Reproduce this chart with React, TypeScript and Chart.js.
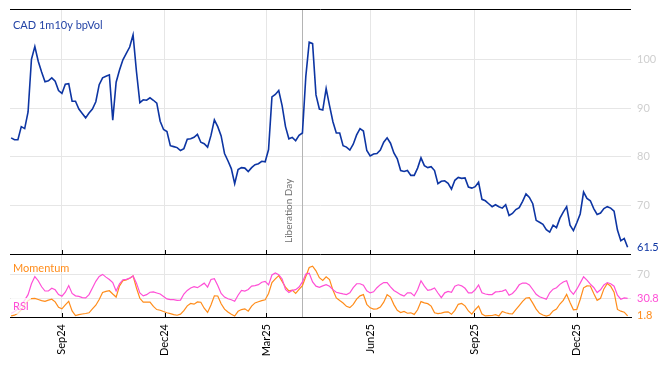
import { useEffect, useRef } from 'react';
import { Chart, registerables } from 'chart.js';

Chart.register(...registerables);

const W = 668;
const H = 366;

// ---- data -----------------------------------------------------------
const seriesTitle = 'CAD 1m10y bpVol';
const momentumLabel = 'Momentum';
const rsiLabel = 'RSI';

const firstSample = [2024, 6, 18]; // first observation date
const sampleStepDays = 3;
const axisStart = [2024, 6, 17];
const axisEnd = [2026, 0, 18];

const tickLabels = ['Sep24', 'Dec24', 'Mar25', 'Jun25', 'Sep25', 'Dec25'];
const tickDates = [
  [2024, 8, 1], [2024, 11, 1], [2025, 2, 1], [2025, 5, 1], [2025, 8, 1], [2025, 11, 1],
];

const eventLabel = 'Liberation Day';
const eventDate = [2025, 3, 2];

const volValues = [
  83.9, 83.5, 83.5, 86.2, 85.8, 89.2, 100, 102.6, 99.6, 97.4,
  95.4, 95.6, 96.2, 95.5, 93.6, 93.0, 94.9, 95.0, 91.4, 91.4,
  89.8, 88.9, 88.0, 89.0, 89.8, 91.3, 94.8, 96.2, 96.5, 96.8,
  87.5, 95.3, 97.8, 99.9, 101.2, 102.5, 105.0, 97.5, 91.1, 91.7,
  91.6, 92.1, 91.6, 91.0, 87.3, 85.6, 85.2, 82.3, 82.1, 81.9,
  81.3, 81.7, 83.6, 83.7, 84.0, 84.6, 83.0, 82.7, 82.0, 84.4,
  87.6, 86.2, 84.3, 80.7, 79.2, 77.6, 74.5, 77.4, 77.8, 77.7,
  77.0, 77.8, 78.4, 78.6, 79.1, 79.0, 81.5, 92.3, 92.8, 93.6,
  90.5, 86.2, 83.7, 84.0, 83.3, 84.4, 84.9, 96.5, 103.5, 103.2,
  92.7, 89.8, 89.6, 94.0, 90.5, 87.2, 84.9, 84.9, 82.3, 82.0,
  81.4, 82.6, 84.5, 85.8, 85.3, 81.3, 80.2, 80.6, 80.7, 81.4,
  83.0, 83.9, 82.8, 80.8, 79.6, 77.2, 77.0, 77.2, 76.2, 76.2,
  77.7, 79.8, 78.2, 77.8, 78.0, 77.2, 74.5, 75.0, 75.1, 74.6,
  73.4, 75.2, 75.8, 75.6, 75.7, 73.8, 73.6, 73.9, 74.8, 71.3,
  71.0, 70.4, 69.8, 70.2, 69.8, 69.5, 70.2, 68.0, 68.4, 69.2,
  69.6, 70.9, 72.4, 71.7, 70.4, 67.0, 66.6, 66.2, 65.1, 64.6,
  66.0, 65.5, 67.4, 68.7, 69.8, 66.0, 64.9, 66.5, 68.3, 72.8,
  71.5, 71.0, 69.4, 68.2, 68.5, 69.4, 69.8, 69.5, 68.9, 65.0,
  62.8, 63.3, 61.5,
];

const rsiValues = [
  6, 9, 13, 20, 28, 37, 55, 67, 60, 50,
  43, 43, 47.5, 45, 37, 34.5, 41, 52, 39, 35,
  34, 32, 31.6, 37, 48, 59, 67, 70.5, 66, 62,
  57, 43, 55, 61.7, 62.2, 64.3, 68, 56, 40, 35,
  37, 41, 41.5, 39.8, 38, 34, 30, 28.8, 28.8, 27.5,
  28, 38, 44, 48, 50.3, 48.5, 52, 56, 49.5, 62,
  63.5, 52, 39, 33, 30.2, 28.6, 26, 36, 44, 42.8,
  45.5, 51, 52, 53.5, 57.5, 58.9, 53, 69.5, 73, 70,
  63, 45.5, 40.5, 44, 45.3, 49.5, 58, 71, 72.5, 58,
  51, 49, 51.5, 53.4, 50.8, 45.3, 41, 39.5, 38.2, 37.1,
  40, 48.5, 55, 55, 52.5, 43.5, 39.9, 41.7, 48.5, 53.5,
  57, 57, 50, 44, 40.5, 37, 34.5, 39.9, 39.9, 35,
  45, 60, 51, 44.2, 45.3, 48, 39.7, 32, 40, 42.3,
  41, 51, 53.3, 51.5, 47.5, 40, 39.8, 45, 53, 40,
  38, 37, 37.1, 41.5, 42, 42.8, 45, 36, 39, 45,
  53.3, 56.2, 56.3, 53, 45.5, 37.5, 33.5, 31.5, 29.5, 40,
  46, 48.5, 54, 58, 60, 44, 37.5, 46, 56, 66.5,
  61, 54.3, 48.8, 40.5, 45, 53, 57, 55, 51, 36,
  29.4, 31.5, 30.8,
];

const momValues = [
  2, 3, 6, 12, 20, 27, 30.5, 30.8, 29, 27,
  26, 28, 29.5, 25, 16, 13.5, 20, 26, 10, 2.5,
  3.8, 5, 5.8, 7, 13.5, 19.5, 29, 40.5, 42.5, 43.5,
  38, 33, 51.5, 60, 61.2, 64, 68, 48, 31, 24.5,
  24.5, 24.5, 17.5, 12.3, 11.2, 9, 7, 5.6, 4, 2.9,
  4.7, 10.5, 18.5, 22.5, 21.2, 25, 24.5, 14.5, 7.5, 20,
  35, 34.8, 22, 13, 8.2, 4.4, 1.5, 9.4, 12.3, 13.5,
  9.7, 17.9, 23.3, 25.2, 27, 28.5, 39, 57, 63, 68.5,
  59, 49.5, 43.2, 44.6, 39, 45.8, 52, 67, 82, 84,
  76.5, 65, 60.5, 66.5, 61.8, 44.5, 31.6, 27.2, 23.2, 17.7,
  15.5, 21, 29.5, 35, 37, 21, 15.2, 13, 13.5, 16.5,
  24.5, 37, 33, 20.5, 11, 7.3, 9.2, 6.2, 6.9, 4.3,
  12, 25.5, 23.3, 22.1, 18, 7, 5.5, 6.5, 8, 8.5,
  4.5, 11, 21, 22.5, 18.5, 10, 4.7, 12, 18, 5,
  1.8, 2.3, 2.5, 3.8, 1.7, 9.2, 7, 5.5, 5, 12,
  19, 26, 31.5, 32, 23, 13, 6, 3.2, 1.4, 3.4,
  10, 13.2, 21.5, 27.5, 37.5, 24, 11.8, 12.5, 29, 48.3,
  51.5, 51.3, 39, 27.5, 31, 46.5, 55.5, 51, 41, 12.5,
  9.6, 8, 1.8,
];

const rsiLevels = [30, 70];

// ---- styles ---------------------------------------------------------
const BLUE = '#0d35a3';
const TITLE_BLUE = '#2444a6';
const PINK = '#ff4fd6';
const ORANGE = '#ff8c1a';
const GRID = '#e6e6e6';
const AXIS_GRAY = '#cfcfcf';
const FONT = 'Lato, "Open Sans", sans-serif';

const DAY = 86400000;
const utc = (d: number[]) => Date.UTC(d[0], d[1], d[2]);
const dayIndex = (d: number[]) => Math.round((utc(d) - utc(axisStart)) / DAY);

const firstDay = dayIndex(firstSample);
const sampleDays = volValues.map((_, i) => firstDay + i * sampleStepDays);
const tickDays = tickDates.map(dayIndex);
const eventDay = dayIndex(eventDate);
const endDay = dayIndex(axisEnd);

const lastVol = volValues[volValues.length - 1];
const lastRsi = rsiValues[rsiValues.length - 1];
const lastMom = momValues[momValues.length - 1];

const pts = (vals: number[]) => vals.map((v, i) => ({ x: sampleDays[i], y: v }));

// ---- decoration plugin ---------------------------------------------
const decoPlugin = {
  id: 'deco',
  beforeDatasetsDraw(chart: any, _args: any, opts: any) {
    const { ctx, chartArea } = chart;
    const xs = chart.scales.x;
    const px = Math.round(xs.getPixelForValue(eventDay)) + 0.5;
    ctx.save();
    ctx.strokeStyle = '#b4b4b4';
    ctx.lineWidth = 1;
    ctx.beginPath();
    ctx.moveTo(px, chartArea.top);
    ctx.lineTo(px, chartArea.bottom);
    ctx.stroke();
    if (opts.eventText) {
      ctx.translate(px - 11, chartArea.bottom - 11);
      ctx.rotate(-Math.PI / 2);
      ctx.fillStyle = '#707070';
      ctx.font = `10px ${FONT}`;
      ctx.textAlign = 'left';
      ctx.textBaseline = 'alphabetic';
      ctx.fillText(eventLabel, 0, 0);
    }
    ctx.restore();
  },
  afterDatasetsDraw(chart: any, _args: any, opts: any) {
    const { ctx, chartArea } = chart;
    const xs = chart.scales.x;
    ctx.save();
    ctx.strokeStyle = '#000';
    ctx.lineWidth = 1;
    ctx.beginPath();
    if (opts.topBorder) {
      ctx.moveTo(chartArea.left, Math.round(chartArea.top) + 0.5);
      ctx.lineTo(chartArea.right, Math.round(chartArea.top) + 0.5);
    }
    if (opts.bottomBorder) {
      ctx.moveTo(chartArea.left, Math.round(chartArea.bottom) + 0.5);
      ctx.lineTo(chartArea.right, Math.round(chartArea.bottom) + 0.5);
    }
    xs.ticks.forEach((t: any) => {
      const x = Math.round(xs.getPixelForValue(t.value)) + 0.5;
      ctx.moveTo(x, chartArea.bottom - 4);
      ctx.lineTo(x, chartArea.bottom);
    });
    ctx.stroke();
    (opts.labels || []).forEach((l: any) => {
      ctx.font = `${l.size}px ${FONT}`;
      ctx.textBaseline = 'middle';
      ctx.textAlign = 'left';
      const w = ctx.measureText(l.text).width;
      if (l.bg) {
        ctx.fillStyle = 'rgba(255,255,255,0.75)';
        ctx.fillRect(chartArea.left + l.dx - 2, chartArea.top + l.dy - 8, w + 4, 16);
      }
      ctx.fillStyle = l.color;
      ctx.fillText(l.text, chartArea.left + l.dx, chartArea.top + l.dy);
    });
    ctx.restore();
  },
};

const xBase = (height: number, showLabels: boolean) => ({
  type: 'linear',
  min: 0,
  max: endDay,
  afterBuildTicks: (s: any) => {
    s.ticks = tickDays.map((v) => ({ value: v }));
  },
  afterFit: (s: any) => {
    s.height = height;
    s.paddingLeft = 0;
    s.paddingRight = 0;
  },
  grid: { drawTicks: false, color: GRID },
  border: showLabels ? { display: true, color: '#000', width: 1 } : { display: false },
  ticks: {
    display: showLabels,
    autoSkip: false,
    minRotation: 90,
    maxRotation: 90,
    padding: 7,
    color: '#000',
    font: { size: 11, family: FONT },
    callback: (_v: any, i: number) => tickLabels[i],
  },
});

const yFit = (s: any) => {
  s.width = W - 631;
  s.paddingTop = 0;
  s.paddingBottom = 0;
};

export default function App() {
  const topRef = useRef<HTMLCanvasElement>(null);
  const botRef = useRef<HTMLCanvasElement>(null);

  useEffect(() => {
    Chart.defaults.font.family = FONT;
    const common = {
      animation: false,
      responsive: false,
      maintainAspectRatio: false,
      events: [],
    };

    const top = new Chart(topRef.current as HTMLCanvasElement, {
      type: 'line',
      data: {
        datasets: [
          {
            data: pts(volValues),
            borderColor: BLUE,
            borderWidth: 1.6,
            pointRadius: 0,
            tension: 0,
          },
        ],
      },
      options: {
        ...common,
        layout: { padding: { top: 9, left: 10, right: 0, bottom: H - 254 } },
        plugins: {
          legend: { display: false },
          tooltip: { enabled: false },
          deco: {
            topBorder: true,
            bottomBorder: true,
            eventText: true,
            labels: [{ text: seriesTitle, dx: 3, dy: 16, size: 11, color: TITLE_BLUE }],
          },
        },
        scales: {
          x: xBase(0, false),
          y: {
            position: 'right',
            min: 60.1,
            max: 110.3,
            afterBuildTicks: (s: any) => {
              s.ticks = [lastVol, 70, 80, 90, 100].map((v) => ({ value: v }));
            },
            afterFit: yFit,
            border: { display: false },
            grid: {
              drawTicks: false,
              color: (c: any) => (c.tick && c.tick.value === lastVol ? 'rgba(0,0,0,0)' : GRID),
            },
            ticks: {
              autoSkip: false,
              padding: 6,
              font: { size: 11, family: FONT },
              color: (c: any) => (c.tick && c.tick.value === lastVol ? BLUE : AXIS_GRAY),
              callback: (v: any) => String(v),
            },
          },
        },
      } as any,
      plugins: [decoPlugin],
    });

    const bot = new Chart(botRef.current as HTMLCanvasElement, {
      type: 'line',
      data: {
        datasets: [
          {
            data: pts(rsiValues),
            borderColor: PINK,
            borderWidth: 1.2,
            pointRadius: 0,
            tension: 0,
          },
          {
            data: pts(momValues),
            borderColor: ORANGE,
            borderWidth: 1.2,
            pointRadius: 0,
            tension: 0,
          },
        ],
      },
      options: {
        ...common,
        layout: { padding: { top: 255, left: 10, right: 0, bottom: 0 } },
        plugins: {
          legend: { display: false },
          tooltip: { enabled: false },
          deco: {
            topBorder: false,
            bottomBorder: false,
            eventText: false,
            labels: [
              { text: momentumLabel, dx: 3, dy: 13, size: 11, color: ORANGE },
              { text: rsiLabel, dx: 3, dy: 51, size: 11, color: PINK, bg: true },
            ],
          },
        },
        scales: {
          x: xBase(H - 317, true),
          y: {
            position: 'right',
            min: 0,
            max: 102.6,
            afterBuildTicks: (s: any) => {
              s.ticks = [lastMom, rsiLevels[0], lastRsi, rsiLevels[1]].map((v) => ({ value: v }));
            },
            afterFit: yFit,
            border: { display: false },
            grid: {
              drawTicks: false,
              color: (c: any) =>
                c.tick && rsiLevels.includes(c.tick.value) ? GRID : 'rgba(0,0,0,0)',
            },
            ticks: {
              autoSkip: false,
              padding: 6,
              font: { size: 11, family: FONT },
              color: (c: any) => {
                const v = c.tick && c.tick.value;
                if (v === lastMom) return ORANGE;
                if (v === lastRsi) return PINK;
                return AXIS_GRAY;
              },
              callback: (v: any) => (v === rsiLevels[0] ? '' : String(v)),
            },
          },
        },
      } as any,
      plugins: [decoPlugin],
    });

    return () => {
      top.destroy();
      bot.destroy();
    };
  }, []);

  const cs: any = { position: 'absolute', left: 0, top: 0 };
  return (
    <div style={{ position: 'fixed', left: 0, top: 0, width: W, height: H, background: '#fff' }}>
      <canvas ref={botRef} width={W} height={H} style={cs} />
      <canvas ref={topRef} width={W} height={H} style={cs} />
    </div>
  );
}
